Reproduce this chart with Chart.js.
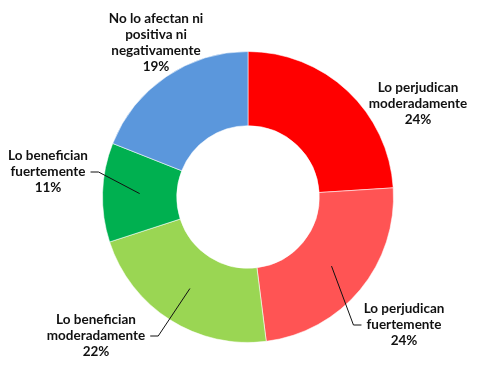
<!DOCTYPE html>
<html>
<head>
<meta charset="utf-8">
<script src="https://cdn.jsdelivr.net/npm/chart.js@4.4.1/dist/chart.umd.min.js"></script>
<style>
  html, body { margin: 0; padding: 0; background: #fff; }
  #wrap { width: 478px; height: 373px; position: relative; }
</style>
</head>
<body>
<div id="wrap"><canvas id="myChart"></canvas></div>
<script>
// chart data
const categories = [
  ["Lo perjudican", "moderadamente"],
  ["Lo perjudican", "fuertemente"],
  ["Lo benefician", "moderadamente"],
  ["Lo benefician", "fuertemente"],
  ["No lo afectan ni", "positiva ni", "negativamente"]
];
const percents = [24, 24, 22, 11, 19];
const sliceColors = ["#FF0000", "#FF5454", "#9AD653", "#00B050", "#5B97DC"];

// label placement relative to the chart center (text block center), and whether to draw a leader line
const labelOffsets = [[170, -93], [156, 128], [-152, 139], [-200, -25], [-92, -154]];
const hasLeader = [false, true, true, true, false];

// draws the labels with their leader lines
const labelPlugin = {
  id: "sliceLabels",
  afterDraw(chart) {
    const ctx = chart.ctx;
    const meta = chart.getDatasetMeta(0);
    ctx.save();
    ctx.font = "bold 13.5px Lato";
    ctx.fillStyle = "#111";
    ctx.textAlign = "center";
    ctx.textBaseline = "middle";
    const lineH = 16;
    meta.data.forEach(function (arc, i) {
      const p = arc.getProps(["x", "y", "startAngle", "endAngle", "innerRadius", "outerRadius"], true);
      const lines = categories[i].concat([percents[i] + "%"]);
      const cx = p.x + labelOffsets[i][0];
      const cy = p.y + labelOffsets[i][1];
      const top = cy - (lines.length - 1) * lineH / 2;
      lines.forEach(function (t, j) {
        ctx.fillText(t, cx, top + j * lineH);
      });
      if (hasLeader[i]) {
        // leader goes from the text to the middle of the ring
        const mid = (p.startAngle + p.endAngle) / 2;
        const r = (p.innerRadius + p.outerRadius) / 2;
        const ex = p.x + Math.cos(mid) * r;
        const ey = p.y + Math.sin(mid) * r;
        const side = ex > cx ? 1 : -1;
        const ly = top + lineH; // second line
        const w2 = ctx.measureText(lines[1]).width;
        const sx = cx + side * (w2 / 2 + 5);
        ctx.strokeStyle = "#111";
        ctx.lineWidth = 1;
        ctx.beginPath();
        ctx.moveTo(sx, ly);
        ctx.lineTo(sx + side * 8, ly);
        ctx.lineTo(ex, ey);
        ctx.stroke();
      }
    });
    ctx.restore();
  }
};

window.onload = function () {
  const ctx = document.getElementById("myChart");
  new Chart(ctx, {
    type: "doughnut",
    data: {
      labels: categories.map(function (c) { return c.join(" "); }),
      datasets: [
        {
          data: percents,
          backgroundColor: sliceColors,
          borderColor: "rgba(255,255,255,0.55)",
          borderWidth: 1
        }
      ]
    },
    options: {
      responsive: true,
      maintainAspectRatio: false,
      animation: false,
      cutout: "49%",
      layout: { padding: { top: 51, bottom: 30, left: 102, right: 84 } },
      plugins: {
        legend: { display: false },
        tooltip: { enabled: false }
      }
    },
    plugins: [labelPlugin]
  });
};
</script>
</body>
</html>
